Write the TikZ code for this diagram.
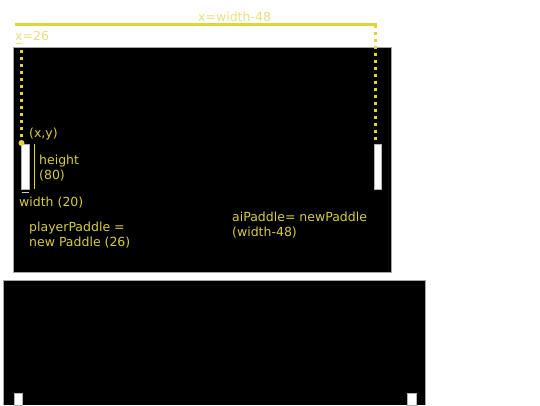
\documentclass[tikz,border=0pt]{standalone}
\usepackage{fontspec}
\setmainfont{DejaVu Sans}
\usetikzlibrary{positioning}
\definecolor{pongyellow}{HTML}{E0D43A}
\definecolor{pongtext}{HTML}{D8CB3E}
\definecolor{pongpale}{HTML}{E8DF80}
\begin{document}
\begin{tikzpicture}[x=1pt,y=-1pt,
	court/.style = {fill=black, draw=gray!70, line width=0.6pt},
	paddle/.style = {fill=white, draw=gray!60, line width=0.4pt},
	guide/.style = {draw=pongyellow, line width=3pt},
	dotguide/.style = {draw=pongyellow, line width=3pt, dash pattern=on 3pt off 4pt},
	lbl/.style = {text=pongtext, inner sep=0pt, align=left, font=\fontsize{12.5}{15}\selectfont},
	toplbl/.style = {lbl, text=pongpale}
	]
  \useasboundingbox (0,0) rectangle (540,405);
  % the two screens
  \draw [court] (13,47.5) rectangle (391,272.5);
  \fill [black] (3.5,280) rectangle (425,405);
  \draw [gray!70, line width=0.6pt] (3.5,405) -- (3.5,280) -- (425,280) -- (425,405);
  % paddles
  \draw [paddle] (21.5,144) rectangle (29.5,189);
  \draw [paddle] (374.5,144) rectangle (381.5,189);
  \draw [paddle] (14.5,393.5) rectangle (22.5,405.5);
  \draw [paddle] (407.5,393.5) rectangle (416,405.5);
  % guides
  \coordinate (topL) at (15,24.5);
  \coordinate (topR) at (377,24.5);
  \coordinate (aiTop) at (375,24.5);
  \coordinate (aiPos) at (375,143);
  \coordinate (plTop) at (21.5,50);
  \coordinate (plPos) at (21.5,143);
  \draw [guide] (topL) -- (topR);
  \draw [dotguide] (aiTop) -- (aiPos);
  \draw [dotguide] (plTop) -- (plPos);
  \fill [pongyellow] (plPos) circle (3pt);
  \draw [pongyellow, line width=1.4pt] (34.5,143.5) -- (34.5,188.5);
  \draw [gray!40, line width=1pt] (21.5,192.5) -- (29,192.5);
  \draw [pongpale, line width=1pt] (15.5,43) -- (21.5,43);
  % labels
  \node [toplbl, anchor=west] (aiX) at (198,17) {x=width-48};
  \node [toplbl, anchor=west] (plX) at (15,36) {x=26};
  \node [lbl, anchor=west] (xy) at (29,134.5) {(x,y)};
  \node [lbl, anchor=north west] (ht) at (39,154.5) {height\\(80)};
  \node [lbl, anchor=west] (wd) at (19,202.5) {width (20)};
  \node [lbl, anchor=north west] (pl) at (29,221.5) {playerPaddle =\\new Paddle (26)};
  \node [lbl, anchor=north west] (ai) at (232,211.5) {aiPaddle= newPaddle\\(width-48)};
\end{tikzpicture}
\end{document}
